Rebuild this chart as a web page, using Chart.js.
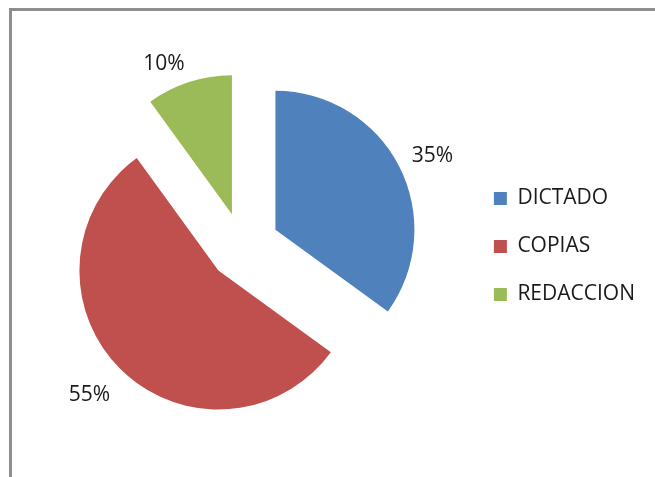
<!DOCTYPE html>
<html>
<head>
<meta charset="utf-8">
<script src="https://cdn.jsdelivr.net/npm/chart.js@4"></script>
<style>
  html, body { margin: 0; padding: 0; background: #fff; overflow: hidden; }
  #wrap { position: relative; width: 655px; height: 477px; }
  #frame {
    position: absolute; left: 9px; top: 8px; width: 700px; height: 500px;
    border-left: 3px solid #8e8e8e; border-top: 3px solid #8e8e8e;
  }
  canvas { position: absolute; left: 0; top: 0; }
</style>
</head>
<body>
<div id="wrap">
  <div id="frame"></div>
  <canvas id="chart" width="655" height="477"></canvas>
</div>
<script>
// valores del grafico
const labels = ['DICTADO', 'COPIAS', 'REDACCION'];
const values = [35, 55, 10];
const colors = ['#4f81bd', '#c0504d', '#9bbb59'];
const explode = [37, 34, 34];   // separacion de cada porcion (px)

// separa las porciones moviendo el centro de cada arco
const explodeSlices = {
  id: 'explodeSlices',
  afterDatasetUpdate(chart, args) {
    args.meta.data.forEach((arc, i) => {
      const mid = (arc.startAngle + arc.endAngle) / 2;
      arc.x += Math.cos(mid) * explode[i];
      arc.y += Math.sin(mid) * explode[i];
    });
  }
};

// etiquetas de porcentaje fuera de cada porcion
const pctLabels = {
  id: 'pctLabels',
  afterDatasetsDraw(chart) {
    const ctx = chart.ctx;
    const meta = chart.getDatasetMeta(0);
    const total = values.reduce((a, b) => a + b, 0);
    ctx.save();
    ctx.font = '21px "Open Sans"';
    ctx.fillStyle = '#1a1a1a';
    meta.data.forEach((arc, i) => {
      const mid = (arc.startAngle + arc.endAngle) / 2;
      const dx = Math.cos(mid), dy = Math.sin(mid);
      const r = arc.outerRadius + 14;
      ctx.textAlign = dx >= 0 ? 'left' : 'right';
      ctx.textBaseline = dy < 0 ? 'bottom' : 'top';
      ctx.fillText(Math.round(values[i] / total * 100) + '%', arc.x + dx * r, arc.y + dy * r + 6);
    });
    ctx.restore();
  }
};

new Chart(document.getElementById('chart'), {
  type: 'pie',
  data: {
    labels: labels,
    datasets: [{
      data: values,
      backgroundColor: colors,
      borderWidth: 0,
      hoverOffset: 0,
      radius: 139
    }]
  },
  options: {
    responsive: false,
    animation: false,
    layout: { padding: { left: 18, right: 10, top: 16, bottom: 0 } },
    plugins: {
      tooltip: { enabled: false },
      legend: {
        position: 'right',
        labels: {
          font: { family: 'Open Sans', size: 21 },
          color: '#1a1a1a',
          boxWidth: 13,
          boxHeight: 13,
          padding: 27
        }
      }
    }
  },
  plugins: [explodeSlices, pctLabels]
});
</script>
</body>
</html>
